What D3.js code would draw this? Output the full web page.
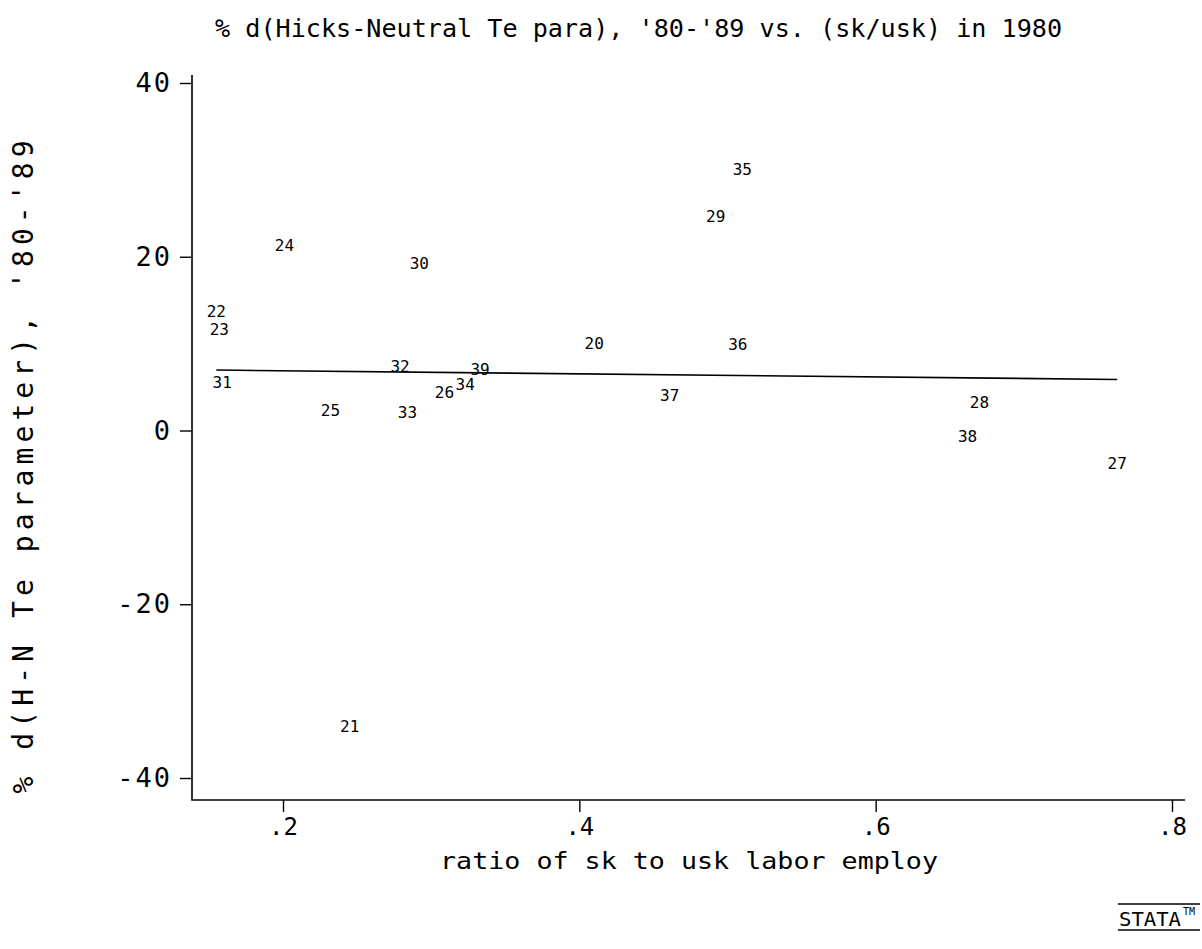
<!DOCTYPE html>
<html>
<head>
<meta charset="utf-8">
<script src="https://cdn.jsdelivr.net/npm/d3@7"></script>
<style>
  html, body { margin: 0; padding: 0; background: #fff; }
  svg { display: block; }
  text { font-family: "DejaVu Sans Mono", monospace; fill: #000; }
</style>
</head>
<body>
<script>
// Industry codes and their values
const ids = [20, 21, 22, 23, 24, 25, 26, 27, 28, 29, 30, 31, 32, 33, 34, 35, 36, 37, 38, 39];
// ratio of skilled to unskilled labor employment, 1980
const ratio = [0.410, 0.245, 0.155, 0.157, 0.201, 0.232, 0.309, 0.763, 0.670, 0.492,
               0.292, 0.159, 0.279, 0.284, 0.323, 0.510, 0.507, 0.461, 0.662, 0.333];
// % change in Hicks-neutral technology parameter, '80-'89
const dHN = [9.4, -34.6, 13.1, 11.1, 20.7, 1.7, 3.8, -4.4, 2.6, 24.1,
             18.6, 4.9, 6.8, 1.5, 4.7, 29.5, 9.3, 3.4, -1.3, 6.5];

const xTicks = [0.2, 0.4, 0.6, 0.8];
const xTickLabels = [".2", ".4", ".6", ".8"];
const yTicks = [40, 20, 0, -20, -40];
const yTickLabels = ["40", "20", "0", "-20", "-40"];

const titleText = "% d(Hicks-Neutral Te para), '80-'89 vs. (sk/usk) in 1980";
const xTitle = "ratio of sk to usk labor employ";
const yTitle = "% d(H-N Te parameter), '80-'89";

const W = 1202, H = 949;
const plot = { left: 192, right: 1185, top: 75, bottom: 800 };

const x = d3.scaleLinear().domain([0.2, 0.8]).range([283, 1172]);
const y = d3.scaleLinear().domain([40, -40]).range([83, 778]);

const svg = d3.select("body").append("svg")
  .attr("width", W).attr("height", H);

// Title
svg.append("text")
  .attr("x", 215).attr("y", 37)
  .attr("font-size", 24)
  .attr("textLength", 847).attr("lengthAdjust", "spacingAndGlyphs")
  .text(titleText);

// Axes frame (left and bottom)
svg.append("path")
  .attr("d", `M${plot.left},${plot.top}V${plot.bottom}H${plot.right}`)
  .attr("fill", "none").attr("stroke", "#000").attr("stroke-width", 1.6);

// Y axis ticks and labels
const yAxis = d3.axisLeft(y).tickValues(yTicks)
  .tickFormat((d, i) => yTickLabels[i]).tickSize(12).tickPadding(8);
const gy = svg.append("g").attr("transform", `translate(${plot.left},0)`).call(yAxis);
gy.select(".domain").remove();
gy.selectAll(".tick line").attr("stroke", "#000").attr("stroke-width", 1.4);
gy.selectAll(".tick text")
  .attr("font-family", "DejaVu Sans Mono, monospace")
  .attr("font-size", 27).attr("fill", "#000").attr("letter-spacing", 2);

// X axis ticks and labels
const xAxis = d3.axisBottom(x).tickValues(xTicks)
  .tickFormat((d, i) => xTickLabels[i]).tickSize(12).tickPadding(6);
const gx = svg.append("g").attr("transform", `translate(0,${plot.bottom})`).call(xAxis);
gx.select(".domain").remove();
gx.selectAll(".tick line").attr("stroke", "#000").attr("stroke-width", 1.4);
gx.selectAll(".tick text")
  .attr("font-family", "DejaVu Sans Mono, monospace")
  .attr("font-size", 24).attr("fill", "#000");

// Axis titles
svg.append("text")
  .attr("x", 689).attr("y", 869)
  .attr("text-anchor", "middle")
  .attr("font-size", 23)
  .attr("textLength", 498).attr("lengthAdjust", "spacingAndGlyphs")
  .text(xTitle);

svg.append("text")
  .attr("transform", "translate(33,467) rotate(-90)")
  .attr("text-anchor", "middle")
  .attr("font-size", 28)
  .attr("textLength", 653).attr("lengthAdjust", "spacing")
  .text(yTitle);

// Points, each marked by its industry code
const pts = ids.map((id, i) => ({ id, x: ratio[i], y: dHN[i] }));
svg.append("g").selectAll("text")
  .data(pts).join("text")
  .attr("x", d => x(d.x))
  .attr("y", d => y(d.y))
  .attr("dy", -5)
  .attr("text-anchor", "middle")
  .attr("dominant-baseline", "central")
  .attr("font-size", 16)
  .text(d => d.id);

// OLS fitted line across the observed range
const mx = d3.mean(ratio), my = d3.mean(dHN);
const sxy = d3.sum(ratio, (v, i) => (v - mx) * (dHN[i] - my));
const sxx = d3.sum(ratio, v => (v - mx) ** 2);
const b = sxy / sxx, a = my - b * mx;
const [x0, x1] = d3.extent(ratio);
svg.append("line")
  .attr("x1", x(x0)).attr("y1", y(a + b * x0))
  .attr("x2", x(x1)).attr("y2", y(a + b * x1))
  .attr("stroke", "#000").attr("stroke-width", 1.6);

// Stata mark
const logo = svg.append("g").attr("transform", "translate(1118,918)");
logo.append("line").attr("x1", 0).attr("x2", 82).attr("y1", -14).attr("y2", -14)
  .attr("stroke", "#000").attr("stroke-width", 1.5);
logo.append("line").attr("x1", 0).attr("x2", 82).attr("y1", 12).attr("y2", 12)
  .attr("stroke", "#000").attr("stroke-width", 1.5);
logo.append("text").attr("x", 1).attr("y", 8)
  .attr("font-size", 20)
  .attr("textLength", 62).attr("lengthAdjust", "spacingAndGlyphs")
  .text("STATA");
logo.append("text").attr("x", 65).attr("y", -3)
  .attr("font-size", 10)
  .text("TM");
</script>
</body>
</html>
